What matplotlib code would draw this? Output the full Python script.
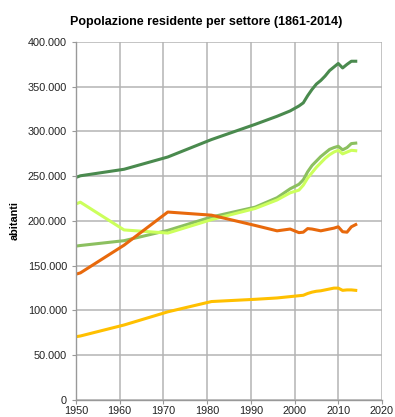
import matplotlib
matplotlib.use("Agg")
import matplotlib.pyplot as plt
from matplotlib.ticker import FuncFormatter

plt.rcParams['font.family'] = ['Liberation Sans', 'DejaVu Sans']

years = [1936, 1951, 1961, 1971, 1981, 1991, 1996, 1999, 2001, 2002, 2003, 2004,
         2005, 2006, 2007, 2008, 2009, 2010, 2011, 2012, 2013, 2014]

settore_a = [223000, 250500, 257800, 271500, 291000, 308000, 317000, 323000, 328500,
             332000, 340000, 347000, 353000, 357000, 362000, 368000, 372000, 376000,
             371000, 375000, 378500, 378500]
settore_b = [163000, 172600, 178000, 189500, 204500, 215500, 226000, 236000, 241000,
             246000, 255000, 262000, 267000, 272000, 276000, 280000, 282000, 283500,
             279500, 282000, 286500, 287000]
settore_c = [192000, 221000, 190000, 186500, 201500, 214000, 223500, 231500, 234500,
             240000, 248000, 254000, 260000, 265000, 270000, 274000, 277000, 279000,
             275000, 277000, 279000, 278500]
settore_d = [121000, 142000, 173000, 210000, 206500, 195000, 189000, 191000, 187000,
             187500, 191500, 191000, 190000, 189000, 190000, 191000, 192000, 193500,
             188000, 187500, 193500, 196000]
settore_e = [60000, 71500, 83800, 98500, 110000, 112500, 114000, 115500, 116500,
             117000, 119000, 120500, 121500, 122000, 123000, 124000, 125000, 125000,
             122500, 123000, 123000, 122500]

series = [
    (settore_a, '#4a8a4e'),
    (settore_b, '#8cc060'),
    (settore_c, '#ccff5c'),
    (settore_d, '#e8690c'),
    (settore_e, '#ffc000'),
]


def migliaia(v, pos):
    return f'{int(v):,}'.replace(',', '.')


fig = plt.figure(figsize=(3.95, 4.17), dpi=100)
ax = fig.add_axes([0.1924, 0.0408, 0.7746, 0.8585])

for values, color in series:
    ax.plot(years, values, color=color, linewidth=2.2, solid_joinstyle='round')

ax.set_xlim(1950, 2020)
ax.set_ylim(0, 400000)
ax.set_xticks(range(1950, 2021, 10))
ax.set_yticks(range(0, 400001, 50000))
ax.yaxis.set_major_formatter(FuncFormatter(migliaia))
ax.tick_params(labelsize=7.8, colors='#222222', length=3, width=0.8)
ax.tick_params(axis='both', color='#999999')
ax.tick_params(axis='x', pad=1.5)

ax.grid(True, color='#b4b4b4', linewidth=1.1)
ax.set_axisbelow(True)
for side in ['top', 'right']:
    ax.spines[side].set_visible(False)
for side in ['left', 'bottom']:
    ax.spines[side].set_color('#999999')
    ax.spines[side].set_linewidth(1.0)

ax.set_ylabel('abitanti', fontsize=7.8, fontweight='bold', labelpad=6)
fig.suptitle('Popolazione residente per settore (1861-2014)', fontsize=9,
             fontweight='bold', y=0.962, x=0.522)

fig.savefig('out.png', dpi=100)
